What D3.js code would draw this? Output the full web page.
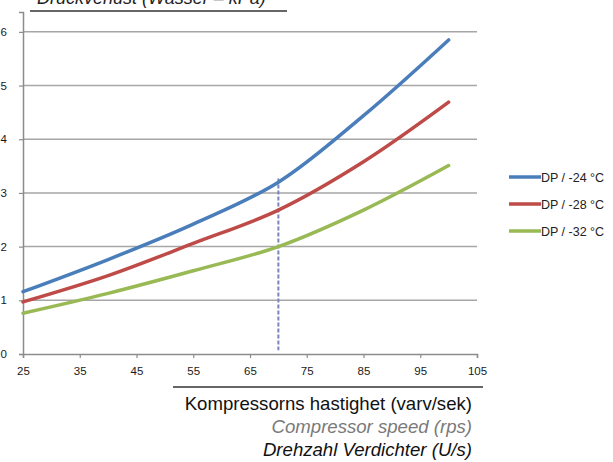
<!DOCTYPE html>
<html><head><meta charset="utf-8">
<script src="https://cdn.jsdelivr.net/npm/d3@7"></script>
<style>body{margin:0;background:#fff;} svg{display:block;}</style>
</head><body>
<svg id="c" width="613" height="462"></svg>
<script>
const speeds = [25, 40, 55, 70, 85, 100];
const dp24 = [1.16, 1.76, 2.42, 3.20, 4.44, 5.85];
const dp28 = [0.97, 1.46, 2.06, 2.68, 3.58, 4.69];
const dp32 = [0.76, 1.13, 1.55, 2.00, 2.68, 3.51];
const seriesNames = ["DP / -24 °C", "DP / -28 °C", "DP / -32 °C"];
const xTicks = [25, 35, 45, 55, 65, 75, 85, 95, 105];
const yTicks = [0, 1, 2, 3, 4, 5, 6];
const markerSpeed = [70];
const markerRange = [0.07, 3.27];
const yTitle = "Druckverlust (Wasser – kPa)";
const xTitles = ["Kompressorns hastighet (varv/sek)", "Compressor speed (rps)", "Drehzahl Verdichter (U/s)"];

const colors = ["#4a7ebb", "#be4b48", "#98b954"];
const svg = d3.select("#c");
const x = d3.scaleLinear().domain([25, 105]).range([23, 477]);
const y = d3.scaleLinear().domain([0, 6.37]).range([354, 12]);
const font = "'Liberation Sans', Arial, sans-serif";

// gridlines
svg.append("g").selectAll("line").data(yTicks.filter(d => d > 0)).join("line")
  .attr("x1", x(25)).attr("x2", x(105))
  .attr("y1", d => y(d)).attr("y2", d => y(d))
  .attr("stroke", "#a6a6a6").attr("stroke-width", 1.5);

// axes
const xAxis = svg.append("g").attr("transform", `translate(0,${y(0)})`)
  .call(d3.axisBottom(x).tickValues(xTicks).tickSize(4).tickPadding(9).tickFormat(d3.format("d")));
const yAxis = svg.append("g").attr("transform", `translate(${x(25)},0)`)
  .call(d3.axisLeft(y).tickValues(yTicks).tickSize(4).tickPadding(12).tickFormat(d3.format("d")));
[xAxis, yAxis].forEach(g => {
  g.select(".domain").attr("stroke", "#8c8c8c").attr("stroke-width", 1.5);
  g.selectAll(".tick line").attr("stroke", "#8c8c8c").attr("stroke-width", 1.2);
  g.selectAll("text").attr("font-family", font).attr("font-size", 11.5).attr("fill", "#1a1a1a");
});

// marker dashed line
svg.append("line")
  .attr("x1", x(markerSpeed[0])).attr("x2", x(markerSpeed[0]))
  .attr("y1", y(markerRange[1])).attr("y2", y(markerRange[0]))
  .attr("stroke", "#7886bb").attr("stroke-width", 2).attr("stroke-dasharray", "4,2");

// curves
const all = [dp24, dp28, dp32];
const line = d3.line().x((d, i) => x(speeds[i])).y(d => y(d)).curve(d3.curveCatmullRom.alpha(0.5));
svg.append("g").selectAll("path").data(all).join("path")
  .attr("d", d => line(d)).attr("fill", "none")
  .attr("stroke", (d, i) => colors[i]).attr("stroke-width", 3.5)
  .attr("stroke-linecap", "round");

// legend
const lg = svg.append("g").selectAll("g").data(seriesNames).join("g")
  .attr("transform", (d, i) => `translate(509,${177 + i * 27})`);
lg.append("line").attr("x1", 0).attr("x2", 32).attr("y1", 0).attr("y2", 0)
  .attr("stroke", (d, i) => colors[i]).attr("stroke-width", 3.5);
lg.append("text").attr("x", 32).attr("y", 4.5).text(d => d)
  .attr("font-family", font).attr("font-size", 12.5).attr("fill", "#222");

// y title (clipped at top)
svg.append("text").attr("x", 37).attr("y", 4).text(yTitle)
  .attr("font-family", font).attr("font-size", 18).attr("font-style", "italic").attr("fill", "#222");
svg.append("line").attr("x1", 30).attr("x2", 287).attr("y1", 11).attr("y2", 11)
  .attr("stroke", "#333").attr("stroke-width", 1.5);

// x titles
svg.append("line").attr("x1", 173).attr("x2", 483).attr("y1", 387).attr("y2", 387)
  .attr("stroke", "#333").attr("stroke-width", 1.5);
const xtStyles = [{c: "#111", s: "normal", y: 410}, {c: "#7a7a7a", s: "italic", y: 433}, {c: "#111", s: "italic", y: 456}];
svg.append("g").selectAll("text").data(xTitles).join("text")
  .attr("x", 472).attr("y", (d, i) => xtStyles[i].y).attr("text-anchor", "end")
  .attr("font-family", font).attr("font-size", 18.6)
  .attr("font-style", (d, i) => xtStyles[i].s).attr("fill", (d, i) => xtStyles[i].c)
  .text(d => d);
</script>
</body></html>
